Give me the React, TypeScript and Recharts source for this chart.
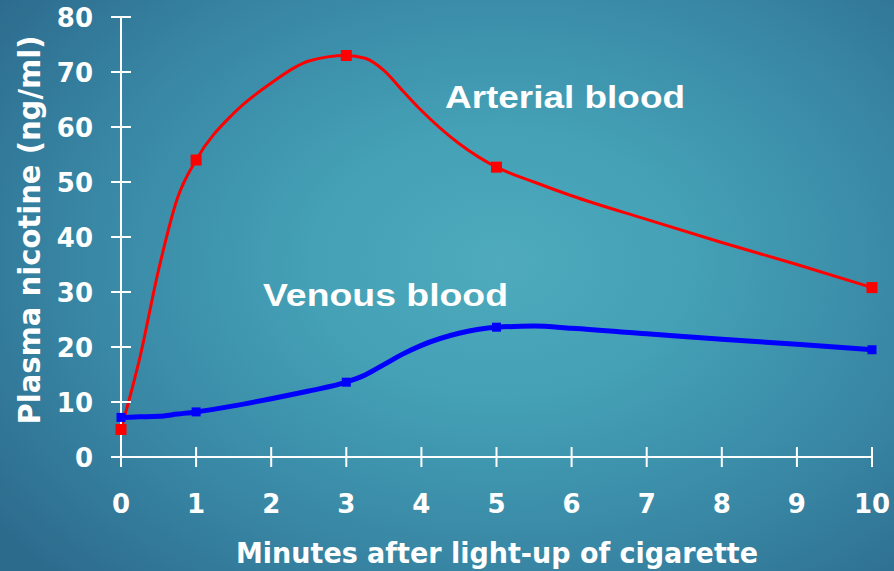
import React from "react";
import { LineChart, Line, XAxis, YAxis, Customized } from "recharts";

// minutes after light-up, shared x grid for both curves
const minutes = [0, 0.25, 0.5, 0.75, 1, 1.5, 2, 2.5, 3, 3.25, 3.5, 3.75, 4, 4.5, 5, 5.5, 6, 7, 8, 9, 10];
const arterial = [5, 18, 34, 47, 54, 62.5, 68, 72, 73, 72.5, 70.3, 66.6, 63, 57, 52.7, 50, 47.5, 43.2, 39, 35, 30.8];
const venous = [7.2, 7.3, 7.4, 7.8, 8.2, 9.3, 10.6, 12, 13.6, 14.9, 16.8, 18.7, 20.3, 22.5, 23.6, 23.8, 23.4, 22.4, 21.4, 20.5, 19.5];
// only these samples carry a square marker
const measured = [0, 1, 3, 5, 10];

const xTicks = [0, 1, 2, 3, 4, 5, 6, 7, 8, 9, 10];
const yTicks = [0, 10, 20, 30, 40, 50, 60, 70, 80];

const data = minutes.map((m, i) => ({ minute: m, arterial: arterial[i], venous: venous[i] }));

const tickFont = { fontFamily: "DejaVu Sans", fontWeight: "bold", fontSize: 26, fill: "#fff" };

const XTick = ({ x, y, payload }: any) => (
    <g>
        <line x1={x} x2={x} y1={y - 10} y2={y + 10} stroke="#fff" strokeWidth={2} />
        <text x={x} y={y + 56} textAnchor="middle" {...tickFont}>{payload.value}</text>
    </g>
);

const YTick = ({ x, y, payload }: any) => (
    <g>
        <line x1={x - 10} x2={x + 10} y1={y} y2={y} stroke="#fff" strokeWidth={2} />
        <text x={x - 28} y={y + 10} textAnchor="end" {...tickFont}>{payload.value}</text>
    </g>
);

const squareDot = (color: string, size: number) => (p: any) => {
    if (!measured.includes(p.payload.minute)) return <g key={p.index} />;
    return <rect key={p.index} x={p.cx - size / 2} y={p.cy - size / 2} width={size} height={size} fill={color} />;
};

const Texts = () => (
    <g fill="#fff" fontWeight="bold">
        <text x={445} y={108} fontFamily="Liberation Sans" fontSize={32} textLength={240} lengthAdjust="spacingAndGlyphs">Arterial blood</text>
        <text x={263} y={306} fontFamily="Liberation Sans" fontSize={32} textLength={245} lengthAdjust="spacingAndGlyphs">Venous blood</text>
        <text x={236} y={563} fontFamily="DejaVu Sans" fontSize={29} textLength={522} lengthAdjust="spacingAndGlyphs">Minutes after light-up of cigarette</text>
        <text x={40} y={230} fontFamily="DejaVu Sans" fontSize={30} textAnchor="middle" textLength={389} lengthAdjust="spacingAndGlyphs" transform="rotate(-90 40 230)">Plasma nicotine (ng/ml)</text>
    </g>
);

export default function App() {
    return (
        <div style={{
            width: 894, height: 571,
            background: "radial-gradient(ellipse 70% 78% at 56% 46%, #4eaabc 0%, #44a1b6 30%, #3886a4 68%, #2d6b8d 100%)"
        }}>
            <style>{"body{margin:0}"}</style>
            <LineChart width={894} height={571} data={data} margin={{ top: 17, right: 22, left: 0, bottom: 0 }}>
                <XAxis dataKey="minute" type="number" domain={[0, 10]} ticks={xTicks} height={114}
                    axisLine={{ stroke: "#fff", strokeWidth: 2 }} tickLine={false} tickSize={0} tickMargin={0}
                    tick={<XTick />} interval={0} />
                <YAxis type="number" domain={[0, 80]} ticks={yTicks} width={121}
                    axisLine={{ stroke: "#fff", strokeWidth: 2 }} tickLine={false} tickSize={0} tickMargin={0}
                    tick={<YTick />} interval={0} />
                <Line dataKey="arterial" type="monotone" stroke="#ff0000" strokeWidth={3}
                    dot={squareDot("#ff0000", 11)} activeDot={false} isAnimationActive={false} />
                <Line dataKey="venous" type="monotone" stroke="#0000ff" strokeWidth={5}
                    dot={squareDot("#0000ff", 9)} activeDot={false} isAnimationActive={false} />
                <Customized component={<Texts />} />
            </LineChart>
        </div>
    );
}
